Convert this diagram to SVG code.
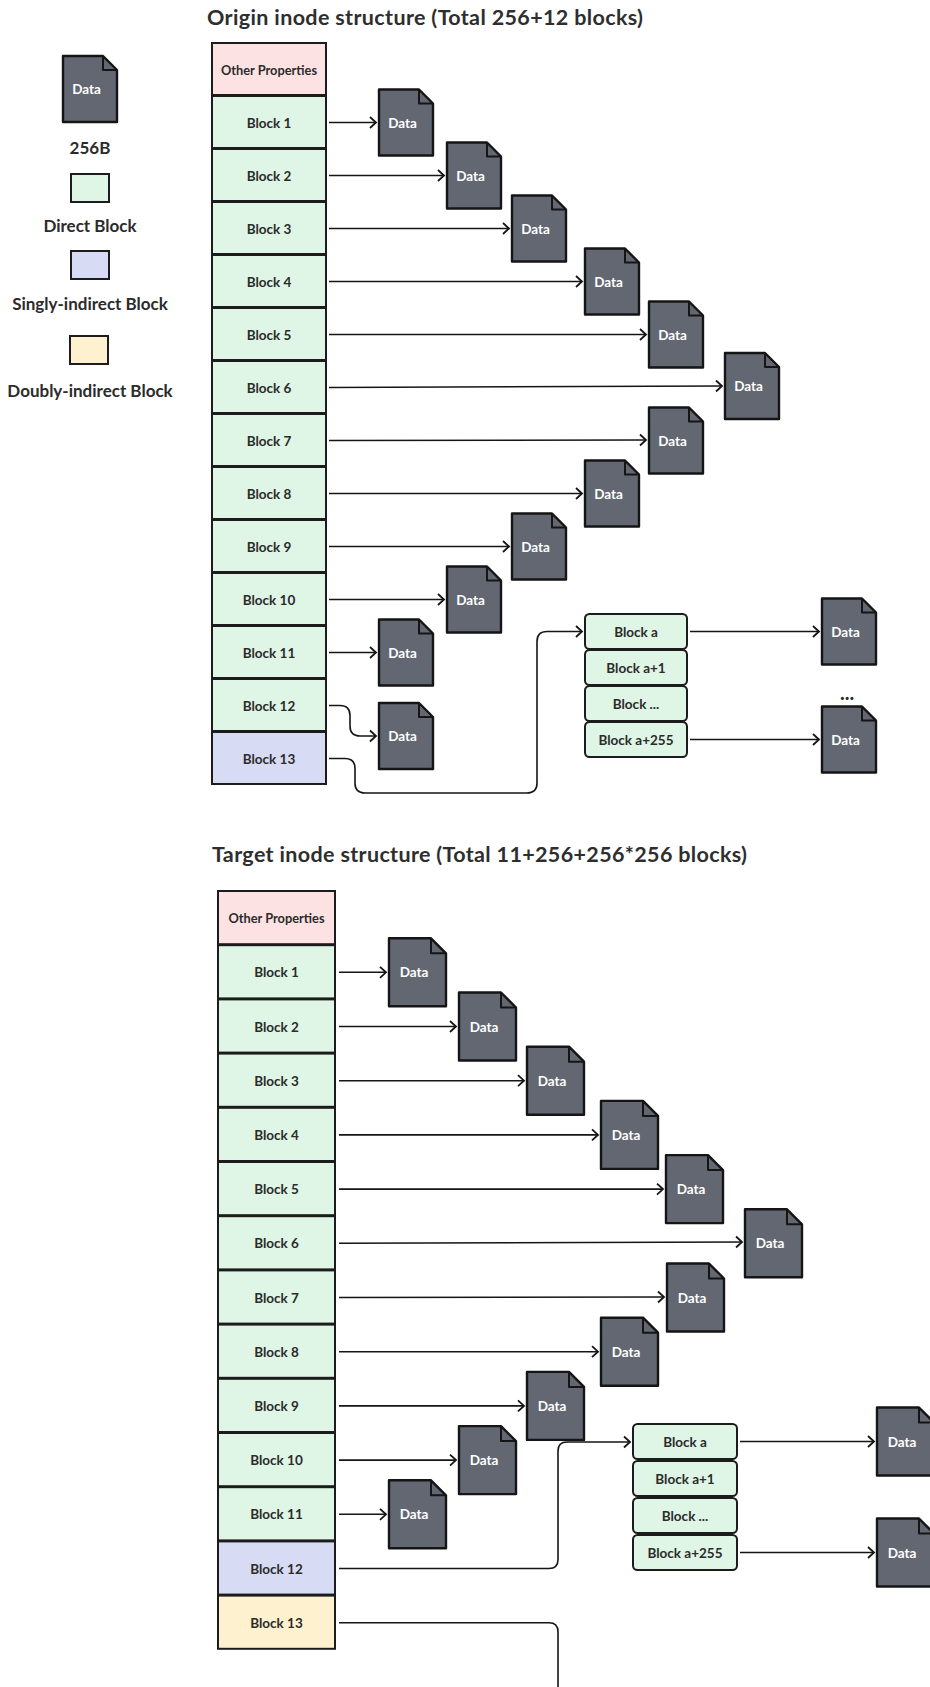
<svg xmlns="http://www.w3.org/2000/svg" xmlns:xlink="http://www.w3.org/1999/xlink" width="930" height="1687" viewBox="0 0 930 1687">
<style>
text{font-family:Lato,"Noto Sans","Liberation Sans",sans-serif;font-weight:700;fill:#2b2b2b}
.title{font-size:21.5px;fill:#2e2e2e}
.leg{font-size:17px;text-anchor:middle}
.lbl{font-size:13.5px;text-anchor:middle;dominant-baseline:central}
.dt{font-size:13.5px;text-anchor:middle;dominant-baseline:central;fill:#ffffff}
.cell{stroke:#1c1c1c;stroke-width:2}
.pk{fill:#fde2e3}.gr{fill:#dff5e6}.bl{fill:#d7dbf4}.yl{fill:#fef1cf}
.sub{fill:#dff5e6;stroke:#1c1c1c;stroke-width:2}
.doc{fill:#626771;stroke:#151515;stroke-width:2.4;stroke-linejoin:round}
.fold{fill:none;stroke:#151515;stroke-width:2;stroke-linejoin:round}
.cn{fill:none;stroke:#151515;stroke-width:1.6;marker-end:url(#arr)}
.cn0{fill:none;stroke:#151515;stroke-width:1.6}
</style>
<defs>
<marker id="arr" markerUnits="userSpaceOnUse" markerWidth="12" markerHeight="14" refX="10" refY="7" orient="auto">
<path d="M4,1.5 L10,7 L4,12.5" fill="none" stroke="#151515" stroke-width="1.8"/>
</marker>
<g id="docS"><path class="doc" d="M0,0 H40 L54,14 V66 H0 Z"/><path class="fold" d="M40,0 V14 H54"/></g>
<g id="docL"><path class="doc" d="M0,0 H42 L57,15 V68 H0 Z"/><path class="fold" d="M42,0 V15 H57"/></g>
</defs>
<rect width="930" height="1687" fill="#ffffff"/>

<!-- Legend -->
<g id="legend">
<g id="legend-data"><use href="#docS" x="63" y="56"/><text class="dt" x="86.5" y="89">Data</text></g>
<text class="leg" x="90" y="154">256B</text>
<rect x="71" y="174" width="38" height="28" class="cell gr"/>
<text class="leg" x="90" y="232">Direct Block</text>
<rect x="71" y="251" width="38" height="28" class="cell bl"/>
<text class="leg" x="90" y="310">Singly-indirect Block</text>
<rect x="70" y="336" width="38" height="28" class="cell yl"/>
<text class="leg" x="90" y="397">Doubly-indirect Block</text>
</g>

<!-- Section 1 -->
<text class="title" x="207" y="25" textLength="436" lengthAdjust="spacing">Origin inode structure (Total 256+12 blocks)</text>

<g id="s1-other"><rect x="212" y="43" width="114" height="52" class="cell pk"/><text class="lbl" x="269" y="69.5" style="font-size:12.8px">Other Properties</text></g>
<g id="s1-b1"><rect x="212" y="96" width="114" height="52" class="cell gr"/><text class="lbl" x="269" y="122.5">Block 1</text></g>
<g id="s1-b2"><rect x="212" y="149" width="114" height="52" class="cell gr"/><text class="lbl" x="269" y="175.5">Block 2</text></g>
<g id="s1-b3"><rect x="212" y="202" width="114" height="52" class="cell gr"/><text class="lbl" x="269" y="228.5">Block 3</text></g>
<g id="s1-b4"><rect x="212" y="255" width="114" height="52" class="cell gr"/><text class="lbl" x="269" y="281.5">Block 4</text></g>
<g id="s1-b5"><rect x="212" y="308" width="114" height="52" class="cell gr"/><text class="lbl" x="269" y="334.5">Block 5</text></g>
<g id="s1-b6"><rect x="212" y="361" width="114" height="52" class="cell gr"/><text class="lbl" x="269" y="387.5">Block 6</text></g>
<g id="s1-b7"><rect x="212" y="414" width="114" height="52" class="cell gr"/><text class="lbl" x="269" y="440.5">Block 7</text></g>
<g id="s1-b8"><rect x="212" y="467" width="114" height="52" class="cell gr"/><text class="lbl" x="269" y="493.5">Block 8</text></g>
<g id="s1-b9"><rect x="212" y="520" width="114" height="52" class="cell gr"/><text class="lbl" x="269" y="546.5">Block 9</text></g>
<g id="s1-b10"><rect x="212" y="573" width="114" height="52" class="cell gr"/><text class="lbl" x="269" y="599.5">Block 10</text></g>
<g id="s1-b11"><rect x="212" y="626" width="114" height="52" class="cell gr"/><text class="lbl" x="269" y="652.5">Block 11</text></g>
<g id="s1-b12"><rect x="212" y="679" width="114" height="52" class="cell gr"/><text class="lbl" x="269" y="705.5">Block 12</text></g>
<g id="s1-b13"><rect x="212" y="732" width="114" height="52" class="cell bl"/><text class="lbl" x="269" y="758.5">Block 13</text></g>

<g id="s1-d1"><use href="#docS" x="379" y="89.5"/><text class="dt" x="402.5" y="122.5">Data</text></g>
<g id="s1-d2"><use href="#docS" x="447" y="142.5"/><text class="dt" x="470.5" y="175.5">Data</text></g>
<g id="s1-d3"><use href="#docS" x="512" y="195.5"/><text class="dt" x="535.5" y="228.5">Data</text></g>
<g id="s1-d4"><use href="#docS" x="585" y="248.5"/><text class="dt" x="608.5" y="281.5">Data</text></g>
<g id="s1-d5"><use href="#docS" x="649" y="301.5"/><text class="dt" x="672.5" y="334.5">Data</text></g>
<g id="s1-d6"><use href="#docS" x="725" y="353"/><text class="dt" x="748.5" y="386">Data</text></g>
<g id="s1-d7"><use href="#docS" x="649" y="407.5"/><text class="dt" x="672.5" y="440.5">Data</text></g>
<g id="s1-d8"><use href="#docS" x="585" y="460.5"/><text class="dt" x="608.5" y="493.5">Data</text></g>
<g id="s1-d9"><use href="#docS" x="512" y="513.5"/><text class="dt" x="535.5" y="546.5">Data</text></g>
<g id="s1-d10"><use href="#docS" x="447" y="566.5"/><text class="dt" x="470.5" y="599.5">Data</text></g>
<g id="s1-d11"><use href="#docS" x="379" y="619.5"/><text class="dt" x="402.5" y="652.5">Data</text></g>
<g id="s1-d12"><use href="#docS" x="379" y="703"/><text class="dt" x="402.5" y="736">Data</text></g>

<g id="s1-ba"><rect x="585" y="614" width="102" height="35" rx="4.5" class="sub"/><text class="lbl" x="636" y="631.5">Block a</text></g>
<g id="s1-ba1"><rect x="585" y="650" width="102" height="35" rx="4.5" class="sub"/><text class="lbl" x="636" y="667.5">Block a+1</text></g>
<g id="s1-bdots"><rect x="585" y="686" width="102" height="35" rx="4.5" class="sub"/><text class="lbl" x="636" y="703.5">Block ...</text></g>
<g id="s1-ba255"><rect x="585" y="722" width="102" height="35" rx="4.5" class="sub"/><text class="lbl" x="636" y="739.5">Block a+255</text></g>

<g id="s1-da"><use href="#docS" x="822" y="598.5"/><text class="dt" x="845.5" y="631.5">Data</text></g>
<text x="847" y="700" style="font-size:20px;text-anchor:middle">...</text>
<g id="s1-da255"><use href="#docS" x="822" y="706.5"/><text class="dt" x="845.5" y="739.5">Data</text></g>

<g id="s1-connectors">
<path class="cn" d="M329,122.5 H376"/>
<path class="cn" d="M329,175.5 H444"/>
<path class="cn" d="M329,228.5 H509"/>
<path class="cn" d="M329,281.5 H582"/>
<path class="cn" d="M329,334.5 H646"/>
<path class="cn" d="M329,387.5 L722,386"/>
<path class="cn" d="M329,440.5 L646,440"/>
<path class="cn" d="M329,493.5 H582"/>
<path class="cn" d="M329,546.5 H509"/>
<path class="cn" d="M329,599.5 H444"/>
<path class="cn" d="M329,652.5 H376"/>
<path class="cn" d="M329,705.5 H340 Q350,705.5 350,715.5 V726 Q350,736 360,736 H376"/>
<path class="cn" d="M329,758.5 H345 Q355,758.5 355,768.5 V783 Q355,793 365,793 H527 Q537,793 537,783 V641.5 Q537,631.5 547,631.5 H582"/>
<path class="cn" d="M690,631.5 H819"/>
<path class="cn" d="M690,739.5 H819"/>
</g>

<!-- Section 2 -->
<text class="title" x="212" y="862" textLength="535" lengthAdjust="spacing">Target inode structure (Total 11+256+256*256 blocks)</text>

<g id="s2-other"><rect x="218" y="891" width="117" height="53.2" class="cell pk"/><text class="lbl" x="276.5" y="918.1" style="font-size:12.8px">Other Properties</text></g>
<g id="s2-b1"><rect x="218" y="945.2" width="117" height="53.2" class="cell gr"/><text class="lbl" x="276.5" y="972.3">Block 1</text></g>
<g id="s2-b2"><rect x="218" y="999.4" width="117" height="53.2" class="cell gr"/><text class="lbl" x="276.5" y="1026.5">Block 2</text></g>
<g id="s2-b3"><rect x="218" y="1053.6" width="117" height="53.2" class="cell gr"/><text class="lbl" x="276.5" y="1080.7">Block 3</text></g>
<g id="s2-b4"><rect x="218" y="1107.8" width="117" height="53.2" class="cell gr"/><text class="lbl" x="276.5" y="1134.9">Block 4</text></g>
<g id="s2-b5"><rect x="218" y="1162" width="117" height="53.2" class="cell gr"/><text class="lbl" x="276.5" y="1189.1">Block 5</text></g>
<g id="s2-b6"><rect x="218" y="1216.2" width="117" height="53.2" class="cell gr"/><text class="lbl" x="276.5" y="1243.3">Block 6</text></g>
<g id="s2-b7"><rect x="218" y="1270.4" width="117" height="53.2" class="cell gr"/><text class="lbl" x="276.5" y="1297.5">Block 7</text></g>
<g id="s2-b8"><rect x="218" y="1324.6" width="117" height="53.2" class="cell gr"/><text class="lbl" x="276.5" y="1351.7">Block 8</text></g>
<g id="s2-b9"><rect x="218" y="1378.8" width="117" height="53.2" class="cell gr"/><text class="lbl" x="276.5" y="1405.9">Block 9</text></g>
<g id="s2-b10"><rect x="218" y="1433" width="117" height="53.2" class="cell gr"/><text class="lbl" x="276.5" y="1460.1">Block 10</text></g>
<g id="s2-b11"><rect x="218" y="1487.2" width="117" height="53.2" class="cell gr"/><text class="lbl" x="276.5" y="1514.3">Block 11</text></g>
<g id="s2-b12"><rect x="218" y="1541.4" width="117" height="53.2" class="cell bl"/><text class="lbl" x="276.5" y="1568.5">Block 12</text></g>
<g id="s2-b13"><rect x="218" y="1595.6" width="117" height="53.2" class="cell yl"/><text class="lbl" x="276.5" y="1622.7">Block 13</text></g>

<g id="s2-d1"><use href="#docL" x="389" y="938.3"/><text class="dt" x="414" y="972.3">Data</text></g>
<g id="s2-d2"><use href="#docL" x="459" y="992.5"/><text class="dt" x="484" y="1026.5">Data</text></g>
<g id="s2-d3"><use href="#docL" x="527" y="1046.7"/><text class="dt" x="552" y="1080.7">Data</text></g>
<g id="s2-d4"><use href="#docL" x="601" y="1100.9"/><text class="dt" x="626" y="1134.9">Data</text></g>
<g id="s2-d5"><use href="#docL" x="666" y="1155.1"/><text class="dt" x="691" y="1189.1">Data</text></g>
<g id="s2-d6"><use href="#docL" x="745" y="1209.3"/><text class="dt" x="770" y="1243.3">Data</text></g>
<g id="s2-d7"><use href="#docL" x="667" y="1263.5"/><text class="dt" x="692" y="1297.5">Data</text></g>
<g id="s2-d8"><use href="#docL" x="601" y="1317.7"/><text class="dt" x="626" y="1351.7">Data</text></g>
<g id="s2-d9"><use href="#docL" x="527" y="1371.9"/><text class="dt" x="552" y="1405.9">Data</text></g>
<g id="s2-d10"><use href="#docL" x="459" y="1426.1"/><text class="dt" x="484" y="1460.1">Data</text></g>
<g id="s2-d11"><use href="#docL" x="389" y="1480.3"/><text class="dt" x="414" y="1514.3">Data</text></g>

<g id="s2-ba"><rect x="633" y="1424" width="104" height="35" rx="4.5" class="sub"/><text class="lbl" x="685" y="1441.5">Block a</text></g>
<g id="s2-ba1"><rect x="633" y="1461" width="104" height="35" rx="4.5" class="sub"/><text class="lbl" x="685" y="1478.5">Block a+1</text></g>
<g id="s2-bdots"><rect x="633" y="1498" width="104" height="35" rx="4.5" class="sub"/><text class="lbl" x="685" y="1515.5">Block ...</text></g>
<g id="s2-ba255"><rect x="633" y="1535" width="104" height="35" rx="4.5" class="sub"/><text class="lbl" x="685" y="1552.5">Block a+255</text></g>

<g id="s2-da"><use href="#docL" x="877" y="1407.5"/><text class="dt" x="902" y="1441.5">Data</text></g>
<g id="s2-da255"><use href="#docL" x="877" y="1518.5"/><text class="dt" x="902" y="1552.5">Data</text></g>

<g id="s2-connectors">
<path class="cn" d="M339,972.3 H386"/>
<path class="cn" d="M339,1026.5 H456"/>
<path class="cn" d="M339,1080.7 H524"/>
<path class="cn" d="M339,1134.9 H598"/>
<path class="cn" d="M339,1189.1 H663"/>
<path class="cn" d="M339,1243.3 L742,1242"/>
<path class="cn" d="M339,1297.5 L664,1297"/>
<path class="cn" d="M339,1351.7 H598"/>
<path class="cn" d="M339,1405.9 H524"/>
<path class="cn" d="M339,1460.1 H456"/>
<path class="cn" d="M339,1514.3 H386"/>
<path class="cn" d="M339,1568.5 H549 Q558,1568.5 558,1559.5 V1451 Q558,1442 567,1442 H630"/>
<path class="cn0" d="M339,1622.7 H549 Q558,1622.7 558,1631.7 V1687"/>
<path class="cn" d="M740,1441.5 H874"/>
<path class="cn" d="M740,1552.5 H874"/>
</g>
</svg>
